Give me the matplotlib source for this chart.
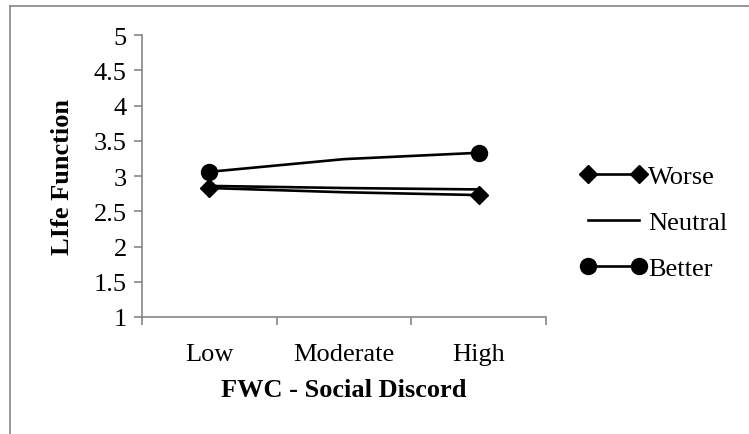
import matplotlib.pyplot as plt
from matplotlib.lines import Line2D

plt.rcParams['font.family'] = ['Liberation Serif', 'DejaVu Serif']

# 数据
levels = ["Low", "Moderate", "High"]
worse = [2.83, 2.77, 2.73]
neutral = [2.86, 2.83, 2.81]
better = [3.06, 3.24, 3.33]
y_ticks = [1, 1.5, 2, 2.5, 3, 3.5, 4, 4.5, 5]

fig = plt.figure(figsize=(7.49, 4.35), dpi=100)
ax = fig.add_axes([0.1896, 0.269, 0.5394, 0.648])

x = list(range(len(levels)))
ax.plot(x, worse, color='black', lw=1.9, marker='D', ms=9.5, markevery=[0, 2], label='Worse')
ax.plot(x, neutral, color='black', lw=1.9, label='Neutral')
ax.plot(x, better, color='black', lw=1.9, marker='o', ms=11.5, markevery=[0, 2], label='Better')

ax.set_xlim(-0.5, 2.5)
ax.set_ylim(1, 5)
ax.set_yticks(y_ticks)
ax.set_yticklabels([f"{v:g}" for v in y_ticks])
ax.set_xticks(x)
ax.set_xticklabels(levels)
# 分类之间的刻度线
ax.set_xticks([-0.5, 0.5, 1.5, 2.5], minor=True)
ax.tick_params(axis='x', which='major', length=0, pad=19, labelsize=19)
ax.tick_params(axis='x', which='minor', length=6, width=1.2, color='#868686')
ax.tick_params(axis='y', length=6, width=1.2, color='#868686', labelsize=19, pad=5)

for s in ['top', 'right']:
    ax.spines[s].set_visible(False)
for s in ['left', 'bottom']:
    ax.spines[s].set_color('#868686')
    ax.spines[s].set_linewidth(1.2)

ax.set_ylabel("LIfe Function", fontsize=19, fontweight='bold', labelpad=14)
ax.set_xlabel("FWC - Social Discord", fontsize=19, fontweight='bold', labelpad=9)

leg = fig.legend(loc='center left', bbox_to_anchor=(0.775, 0.487), frameon=False,
                 fontsize=19, numpoints=2, handlelength=2.5, handletextpad=0.05,
                 labelspacing=0.85, borderpad=0, borderaxespad=0)

# 外框
fig.add_artist(Line2D([10 / 749, 10 / 749], [0, 1 - 7 / 435], color='#868686', lw=1.2))
fig.add_artist(Line2D([10 / 749, 1], [1 - 7 / 435, 1 - 7 / 435], color='#868686', lw=1.2))

plt.savefig("out.png", dpi=100)
